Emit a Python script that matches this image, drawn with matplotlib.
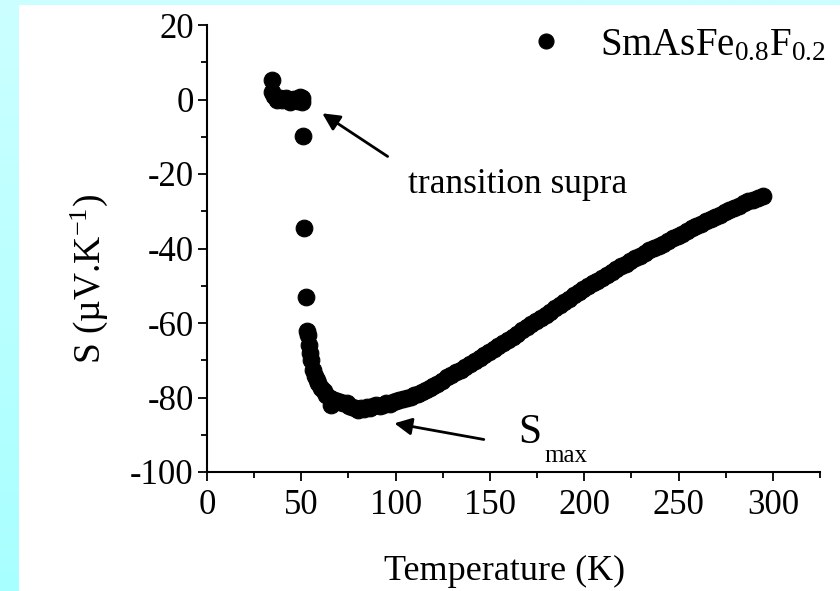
import numpy as np
import matplotlib
matplotlib.use("Agg")
import matplotlib.pyplot as plt
from matplotlib.patches import Rectangle

plt.rcParams['font.family'] = ['Liberation Serif', 'DejaVu Serif']
plt.rcParams['mathtext.fontset'] = 'custom'
plt.rcParams['mathtext.rm'] = 'Liberation Serif'
plt.rcParams['mathtext.default'] = 'regular'
plt.rcParams['axes.unicode_minus'] = False

# thermopower data
T = [34.6, 34.4, 35.5, 36.9, 38.5, 40, 42, 44, 46, 48, 49.5, 50.2, 50.5, 50.7, 51.6,
     52.5, 53.2, 53.7, 54.3, 54.6, 55.2, 56.3, 57.2, 58.2, 59, 60.3, 61.8, 63.3, 65,
     66, 67.5, 69, 70.5, 72, 74, 75.5, 77, 78.5, 80.2, 81.7, 83.2, 84.7, 86.3, 88,
     89.8, 91.5, 93.2, 95, 96.8, 98.5, 100.3, 102, 104, 106, 108, 110, 112, 114, 116,
     118, 120, 122, 124.5, 127, 129.5, 132, 134.5, 137, 139.5, 142, 144.5, 147, 149.5,
     152, 154.5, 157, 159.5, 162, 164.5, 167, 169.5, 172, 174.5, 177, 179.5, 182,
     184.5, 187, 189.5, 192, 194.5, 197, 199.5, 202, 204.5, 207, 209.5, 212, 214.5,
     217, 219.5, 222, 224.5, 227, 229.5, 232, 234.5, 237, 239.5, 242, 244.5, 247,
     249.5, 252, 254.5, 257, 259.5, 262, 264.5, 267, 269.5, 272, 274.5, 277, 279.5,
     282, 284.5, 287, 289.5, 292, 294.8]
S = [5.2, 2.1, 1.0, -0.1, 0.3, -0.2, 0.4, -0.6, 0.2, -0.3, 0.8, 0.3, -0.6, -9.8, -34.4,
     -53.1, -62.1, -63.2, -66.0, -68.1, -70.0, -72.6, -74.2, -75.4, -76.2, -77.4, -78.3,
     -79.2, -80.2, -82.0, -80.6, -81.0, -81.3, -81.6, -81.4, -82.2, -82.6, -82.9, -83.3,
     -82.8, -83.0, -82.6, -82.9, -82.4, -81.9, -82.3, -82.0, -81.6, -81.8, -81.3, -81.0,
     -80.8, -80.5, -80.1, -79.8, -79.4, -79.0, -78.5, -78.0, -77.5, -77.0, -76.3, -75.5,
     -74.6, -73.9, -73.2, -72.5, -71.8, -71.0, -70.2, -69.4, -68.6, -67.8, -66.9, -66.1,
     -65.3, -64.5, -63.7, -62.9, -62.0, -61.2, -60.4, -59.5, -58.7, -57.8, -57.0, -56.1,
     -55.3, -54.4, -53.5, -52.6, -51.7, -50.8, -50.0, -49.3, -48.6, -47.9, -47.1, -46.3,
     -45.6, -44.8, -44.1, -43.3, -42.6, -42.0, -41.3, -40.5, -39.9, -39.3, -38.7, -38.0,
     -37.3, -36.6, -36.0, -35.3, -34.6, -34.0, -33.3, -32.7, -32.0, -31.5, -30.9, -30.2,
     -29.6, -29.0, -28.5, -27.9, -27.3, -26.9, -26.4, -25.9]

fig = plt.figure(figsize=(8.4, 5.91), dpi=100)

# cyan frame with a slight gradient, white sheet on top
bg = fig.add_axes([0, 0, 1, 1], zorder=-2)
grad = np.linspace(0, 1, 256).reshape(-1, 1)
cmap = matplotlib.colors.LinearSegmentedColormap.from_list('cy', ['#ccffff', '#a8ffff'])
bg.imshow(grad, aspect='auto', cmap=cmap, extent=[0, 1, 0, 1])
bg.add_patch(Rectangle((19 / 840, 0), 1, 586 / 591, color='white', lw=0))
bg.set_xlim(0, 1)
bg.set_ylim(0, 1)
bg.axis('off')

ax = fig.add_axes([207 / 840, 119 / 591, 613 / 840, 447 / 591])
ax.patch.set_alpha(0)
ax.plot(T, S, 'o', color='black', markersize=12, markeredgewidth=0.8,
        label=r'SmAsFe$_{0.8}$F$_{0.2}$')

ax.set_xlim(0, 325)
ax.set_ylim(-100, 20)
ax.set_xticks(np.arange(0, 301, 50))
ax.set_xticks(np.arange(25, 326, 25), minor=True)
ax.set_yticks(np.arange(-100, 21, 20))
ax.set_yticks(np.arange(-90, 20, 10), minor=True)
ax.spines['top'].set_visible(False)
ax.spines['right'].set_visible(False)
for sp in ['left', 'bottom']:
    ax.spines[sp].set_linewidth(1.5)
ax.tick_params(which='major', direction='out', length=6.5, width=1.3, labelsize=25)
ax.tick_params(which='minor', direction='out', length=4, width=1.3)
ax.tick_params(axis='x', which='major', pad=6)
ax.tick_params(axis='y', which='major', pad=3)

ax.set_xlabel('Temperature (K)', fontsize=26)
ax.xaxis.set_label_coords(0.486, -0.185)
ax.set_ylabel(r'S (µV.K$^{-1}$)', fontsize=27)
ax.yaxis.set_label_coords(-0.158, 0.432)

ax.legend(loc='upper left', bbox_to_anchor=(534 / 840, 1 - 27 / 591),
          bbox_transform=fig.transFigure, frameon=False, fontsize=28,
          handlelength=0.6, handletextpad=1.1, borderpad=0, borderaxespad=0,
          markerscale=0.9)

arrow = dict(arrowstyle='-|>', color='black', lw=2, mutation_scale=26)
ax.annotate('', xy=(59.9, -3.3), xytext=(97, -15.7), arrowprops=arrow)
ax.text(106.5, -25.1, 'transition supra', fontsize=25.5, va='baseline')
ax.annotate('', xy=(97.9, -86.8), xytext=(148.2, -91.4), arrowprops=arrow)
ax.text(164.8, -92.2, 'S', fontsize=30, va='baseline')
ax.text(179.0, -97.3, 'max', fontsize=18, va='baseline')

fig.savefig('out.png', dpi=100)
